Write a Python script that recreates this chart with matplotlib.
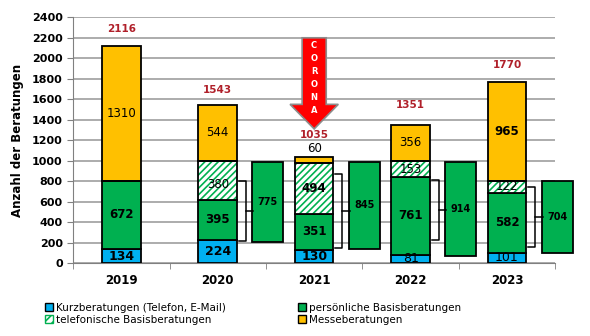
import numpy as np
import matplotlib
matplotlib.use("Agg")
import matplotlib.pyplot as plt
from matplotlib.patches import Patch, Polygon

# values
years = ["2019", "2020", "2021", "2022", "2023"]
kurz = [134, 224, 130, 81, 101]
persoenlich = [672, 395, 351, 761, 582]
telefonisch = [0, 380, 494, 153, 122]
messe = [1310, 544, 60, 356, 965]
totals = [2116, 1543, 1035, 1351, 1770]
basis_sum = [775, 845, 914, 704]          # side bars for 2020..2023

# layout helpers (not data)
side_top = [985, 985, 985, 800]
brace_span = [(215, 800), (146, 868), (224, 810), (156, 742)]
total_off = [120, 100, 165, 140, 120]

c_blue = "#00B0F0"
c_green = "#00B050"
c_yellow = "#FFC000"
c_red = "#B0202A"

plt.rcParams["font.family"] = "DejaVu Sans"
plt.rcParams["hatch.linewidth"] = 1.2

fig = plt.figure(figsize=(5.9, 3.36), dpi=100)
ax = fig.add_axes([0.124, 0.217, 0.817, 0.7315])

x = np.arange(len(years))
w = 0.40

ax.bar(x, kurz, w, color=c_blue, edgecolor="black", lw=1.3, zorder=3)
ax.bar(x, persoenlich, w, bottom=kurz, color=c_green, edgecolor="black", lw=1.3, zorder=3)
b2 = np.array(kurz) + np.array(persoenlich)
# hatched part: green stripes on white, black outline drawn separately
ax.bar(x, telefonisch, w, bottom=b2, color="white", edgecolor=c_green, hatch="/////", lw=0, zorder=3)
ax.bar(x, telefonisch, w, bottom=b2, fill=False, edgecolor="black", lw=1.3, zorder=4)
b3 = b2 + np.array(telefonisch)
ax.bar(x, messe, w, bottom=b3, color=c_yellow, edgecolor="black", lw=1.3, zorder=3)

# segment labels
for i in range(len(years)):
    ax.text(x[i], kurz[i] / 2, str(kurz[i]), ha="center", va="center", fontsize=9,
            fontweight="bold" if i < 3 else "normal", zorder=5)
    ax.text(x[i], kurz[i] + persoenlich[i] / 2, str(persoenlich[i]), ha="center", va="center",
            fontsize=8.5, fontweight="bold", zorder=5)
    if telefonisch[i] > 0:
        ax.text(x[i], b2[i] + telefonisch[i] / 2 - (40 if i == 1 else 0), str(telefonisch[i]),
                ha="center", va="center", fontsize=8.5,
                fontweight="bold" if i == 2 else "normal", zorder=5)
    if messe[i] >= 100:
        ax.text(x[i], b3[i] + messe[i] / 2, str(messe[i]), ha="center", va="center", fontsize=8.5,
                fontweight="bold" if i == 4 else "normal", zorder=5)
    else:
        ax.text(x[i], b3[i] + messe[i] + 20, str(messe[i]), ha="center", va="bottom", fontsize=8.5, zorder=5)
    ax.text(x[i], totals[i] + total_off[i], str(totals[i]), ha="center", va="bottom",
            fontsize=7.5, fontweight="bold", color=c_red, zorder=5)

# side bars (persönliche + telefonische) with braces
sx = x[1:] + 0.52
sw = 0.32
bottoms = [t - v for t, v in zip(side_top, basis_sum)]
ax.bar(sx, basis_sum, sw, bottom=bottoms, color=c_green, edgecolor="black", lw=1.3, zorder=3, clip_on=False)
for j in range(len(basis_sum)):
    ax.text(sx[j], bottoms[j] + basis_sum[j] / 2, str(basis_sum[j]), ha="center", va="center",
            fontsize=7, fontweight="bold", zorder=5)
    lo, hi = brace_span[j]
    xc = x[j + 1]
    xa, xb, xt = xc + 0.22, xc + 0.29, xc + 0.37
    mid = (lo + hi) / 2
    ax.plot([xa, xb, xb, xa], [lo, lo, hi, hi], color="black", lw=1.1, zorder=4,
            solid_joinstyle="round")
    ax.plot([xb, xt], [mid, mid], color="black", lw=1.1, zorder=4)

# CORONA arrow above 2021
ac = x[2]
arrow = Polygon([(ac - 0.125, 2200), (ac + 0.125, 2200), (ac + 0.125, 1550), (ac + 0.25, 1550),
                 (ac, 1310), (ac - 0.25, 1550), (ac - 0.125, 1550)],
                closed=True, facecolor="#FF0000", edgecolor="#8C8C8C", lw=1.2, zorder=6)
ax.add_patch(arrow)
for k, ch in enumerate("CORONA"):
    ax.text(ac, 2127 - k * 127, ch, ha="center", va="center", color="white",
            fontsize=6, fontweight="bold", zorder=7)

# axes styling
ax.set_xlim(-0.5, 4.5)
ax.set_ylim(0, 2400)
ax.set_yticks(np.arange(0, 2401, 200))
ax.yaxis.grid(True, color="#A6A6A6", lw=1.3, zorder=0)
ax.set_axisbelow(True)
ax.set_xticks(x)
ax.set_xticklabels(years, fontweight="bold", fontsize=8.5)
ax.set_xticks(np.arange(-0.5, 4.6, 1), minor=True)
ax.tick_params(axis="x", which="major", length=0, pad=8)
ax.tick_params(axis="x", which="minor", length=4, color="#808080")
ax.tick_params(axis="y", length=4, color="#808080", labelsize=8)
for lab in ax.get_yticklabels():
    lab.set_fontweight("bold")
for s in ["top", "right"]:
    ax.spines[s].set_visible(False)
ax.spines["left"].set_color("#808080")
ax.spines["bottom"].set_color("#808080")
ax.set_ylabel("Anzahl der Beratungen", fontsize=8.5, fontweight="bold", labelpad=6)

# legend in two blocks
h1 = [Patch(facecolor=c_blue, edgecolor="black"),
      Patch(facecolor="white", edgecolor=c_green, hatch="////")]
h2 = [Patch(facecolor=c_green, edgecolor="black"),
      Patch(facecolor=c_yellow, edgecolor="black")]
kw = dict(loc="upper left", frameon=False, fontsize=7.5, handlelength=0.7, handleheight=0.7,
          handletextpad=0.3, labelspacing=0.2, borderpad=0)
fig.legend(h1, ["Kurzberatungen (Telefon, E-Mail)", "telefonische Basisberatungen"],
           bbox_to_anchor=(0.068, 0.115), **kw)
fig.legend(h2, ["persönliche Basisberatungen", "Messeberatungen"],
           bbox_to_anchor=(0.497, 0.115), **kw)

fig.savefig("out.png", dpi=100)
